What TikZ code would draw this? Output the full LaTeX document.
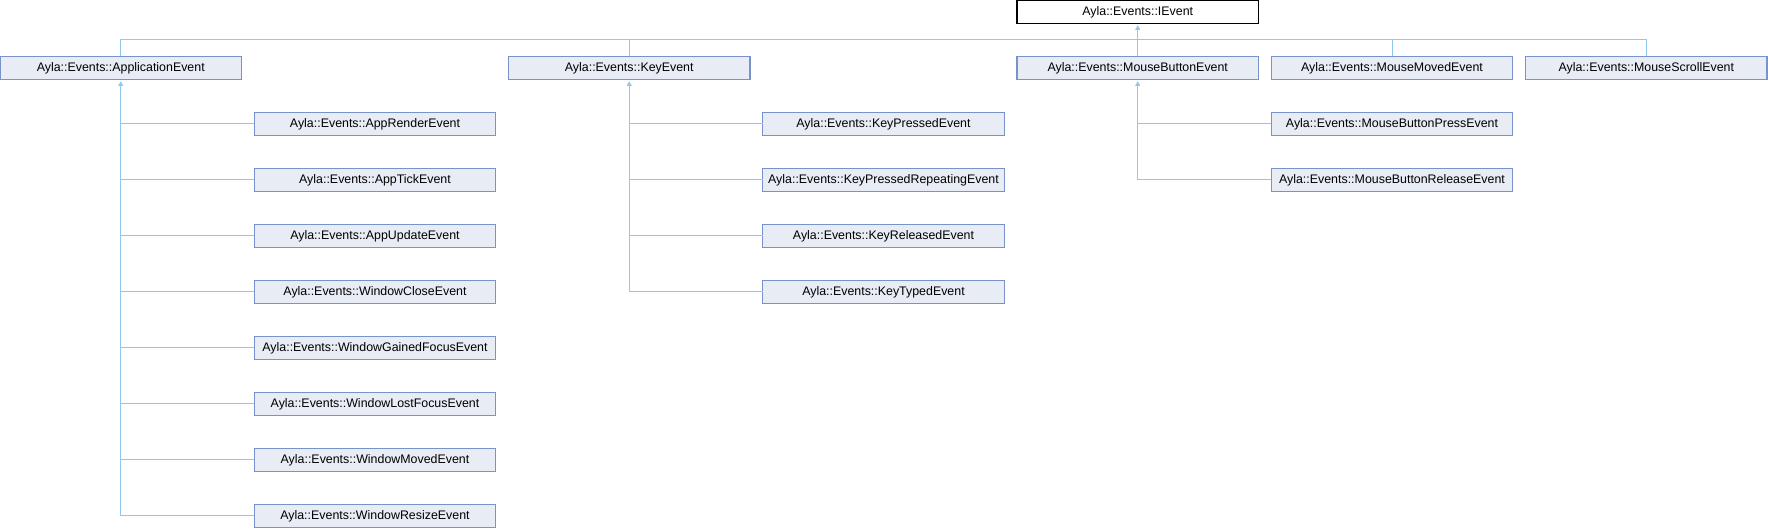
\documentclass[tikz,border=0pt]{standalone}
\usepackage{fontspec}
\setmainfont{Liberation Sans}
\usetikzlibrary{positioning,arrows.meta,calc}
\definecolor{boxfill}{RGB}{232,236,245}
\definecolor{boxline}{RGB}{122,146,204}
\definecolor{edgeline}{RGB}{143,202,238}
\tikzset{
    cls/.style =    {rectangle,
                    fill=boxfill,
                    draw=boxline,
                    text=black,
                    line width=1.2pt,
                    font=\fontsize{12.4}{14}\selectfont,
                    minimum width=241.5pt,
                    minimum height=23pt,
                    inner sep=0pt,
                    outer sep=0pt},
    root/.style =   {cls,
                    fill=white,
                    draw=black},
    inh/.style =    {draw=edgeline,
                    line width=1pt},
    base/.style =   {inh,
                    {Triangle[width=5pt,length=4.5pt]}-,
                    shorten <=2pt},
    node distance=33pt and 12.75pt}

\begin{document}
\begin{tikzpicture}
    \useasboundingbox (0,0) rectangle (1768pt,-528pt);
    % top row
    \node[root] (iev)                             at (1137.75pt,-11.8pt) {Ayla::Events::IEvent};
    \node[cls]  (mbev)      [below=of iev]        {Ayla::Events::MouseButtonEvent};
    \node[cls]  (mmev)      [right=of mbev]       {Ayla::Events::MouseMovedEvent};
    \node[cls]  (msev)      [right=of mmev]       {Ayla::Events::MouseScrollEvent};
    \node[cls]  (kpressed)  [below left=of mbev]  {Ayla::Events::KeyPressedEvent};
    \node[cls]  (keyev)     [above left=of kpressed] {Ayla::Events::KeyEvent};
    \node[cls]  (render)    [below left=of keyev] {Ayla::Events::AppRenderEvent};
    \node[cls]  (appev)     [above left=of render] {Ayla::Events::ApplicationEvent};
    % application events
    \node[cls]  (tick)      [below=of render]     {Ayla::Events::AppTickEvent};
    \node[cls]  (update)    [below=of tick]       {Ayla::Events::AppUpdateEvent};
    \node[cls]  (wclose)    [below=of update]     {Ayla::Events::WindowCloseEvent};
    \node[cls]  (wfocus)    [below=of wclose]     {Ayla::Events::WindowGainedFocusEvent};
    \node[cls]  (wlost)     [below=of wfocus]     {Ayla::Events::WindowLostFocusEvent};
    \node[cls]  (wmoved)    [below=of wlost]      {Ayla::Events::WindowMovedEvent};
    \node[cls]  (wresize)   [below=of wmoved]     {Ayla::Events::WindowResizeEvent};
    % key events
    \node[cls]  (krepeat)   [below=of kpressed]   {Ayla::Events::KeyPressedRepeatingEvent};
    \node[cls]  (kreleased) [below=of krepeat]    {Ayla::Events::KeyReleasedEvent};
    \node[cls]  (ktyped)    [below=of kreleased]  {Ayla::Events::KeyTypedEvent};
    % mouse events
    \node[cls]  (mbpress)   [below right=of mbev] {Ayla::Events::MouseButtonPressEvent};
    \node[cls]  (mbrelease) [below=of mbpress]    {Ayla::Events::MouseButtonReleaseEvent};

    \coordinate (bus) at ($(iev.south)!0.5!(mbev.north)$);
    \draw[base] (iev) -- (mbev);
    \draw[inh]  (appev.north) |- (bus) -| (msev.north);
    \foreach \n in {keyev,mmev}
        \draw[inh] (\n.north) -- (\n.north |- bus);

    \draw[base] (appev.south) |- (wresize.west);
    \foreach \n in {render,tick,update,wclose,wfocus,wlost,wmoved}
        \draw[inh] (appev.south |- \n.west) -- (\n.west);
    \draw[base] (keyev.south) |- (ktyped.west);
    \foreach \n in {kpressed,krepeat,kreleased}
        \draw[inh] (keyev.south |- \n.west) -- (\n.west);
    \draw[base] (mbev.south) |- (mbrelease.west);
    \draw[inh]  (mbev.south |- mbpress.west) -- (mbpress.west);
\end{tikzpicture}
\end{document}
